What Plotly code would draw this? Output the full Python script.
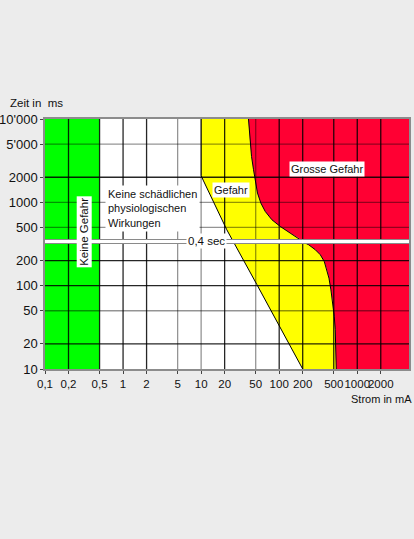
import numpy as np
import plotly.graph_objects as go

# ---------------- data ----------------
x_ticks = [0.1, 0.2, 0.5, 1, 2, 5, 10, 20, 50, 100, 200, 500, 1000, 2000]
x_labels = ["0,1", "0,2", "0,5", "1", "2", "5", "10", "20", "50", "100", "200", "500", "1000", "2000"]
y_ticks = [10, 20, 50, 100, 200, 500, 1000, 2000, 5000, 10000]
y_labels = ["10", "20", "50", "100", "200", "500", "1000", "2000", "5'000", "10'000"]

x_min, x_max = 0.1, 4600      # current, mA
y_min, y_max = 10, 10000      # time, ms

no_danger_limit = 0.5          # "Keine Gefahr" up to 0.5 mA
break_time = 340               # axis break marker ("0,4 sec")

# white / yellow boundary
safe_x = [10, 10, 10.6, 21.3, 51.8, 103, 200]
safe_y = [10000, 2100, 1850, 469, 103, 31, 10]
# yellow / red boundary, above the break
danger_up_x = [40.4, 41.2, 42.5, 44.2, 46.9, 49.7, 52.7, 58.2, 66.2, 80.6, 103, 138, 177, 200]
danger_up_y = [10000, 7450, 5150, 3560, 2460, 1706, 1293, 981, 778, 618, 514, 428, 372, 340]
# yellow / red boundary, below the break
danger_lo_x = [195, 238, 290, 336, 378, 409, 434, 460, 488, 507, 522, 527, 538]
danger_lo_y = [340, 310, 270, 235, 195, 155, 123, 89, 62, 43, 30, 18.6, 10]

# ---------------- style ----------------
GREEN = "#00ff00"
YELLOW = "#ffff00"
RED = "#ff0033"
BG = "#ececec"
FONT = "Liberation Sans, Arial, sans-serif"
dark_x = [0.2, 0.5, 1, 2, 20, 100, 200, 500, 1000, 2000]
dark_y = [20, 100, 200, 2000]

fig = go.Figure()

# green zone
fig.add_trace(go.Scatter(
    x=[x_min, no_danger_limit, no_danger_limit, x_min],
    y=[y_min, y_min, y_max, y_max],
    fill="toself", fillcolor=GREEN, mode="none", hoverinfo="skip"))

# yellow zone
yx = safe_x + danger_lo_x[::-1] + danger_up_x[::-1]
yy = safe_y + danger_lo_y[::-1] + danger_up_y[::-1]
fig.add_trace(go.Scatter(x=yx, y=yy, fill="toself", fillcolor=YELLOW,
                         mode="none", hoverinfo="skip"))

# red zone
rx = danger_up_x + danger_lo_x + [x_max, x_max]
ry = danger_up_y + danger_lo_y + [y_min, y_max]
fig.add_trace(go.Scatter(x=rx, y=ry, fill="toself", fillcolor=RED,
                         mode="none", hoverinfo="skip"))

# grid lines (drawn above the fills)
def grid(vals_x, vals_y, color):
    gx, gy = [], []
    for v in vals_x:
        gx += [v, v, None]
        gy += [y_min, y_max, None]
    for v in vals_y:
        gx += [x_min, x_max, None]
        gy += [v, v, None]
    fig.add_trace(go.Scatter(x=gx, y=gy, mode="lines",
                             line=dict(color=color, width=1.3), hoverinfo="skip"))

inner_x = [v for v in x_ticks if v != x_min]
inner_y = [v for v in y_ticks if v not in (y_min, y_max)]
grid([v for v in inner_x if v not in dark_x], [v for v in inner_y if v not in dark_y],
     "rgba(0,0,0,0.42)")
grid([v for v in inner_x if v in dark_x], [v for v in inner_y if v in dark_y],
     "rgba(0,0,0,0.85)")

# boundary lines
for bx, by in [(safe_x, safe_y), (danger_up_x, danger_up_y), (danger_lo_x, danger_lo_y)]:
    fig.add_trace(go.Scatter(x=bx, y=by, mode="lines",
                             line=dict(color="black", width=1), hoverinfo="skip"))

# axis break band
fig.add_trace(go.Scatter(x=[x_min, x_max], y=[break_time, break_time], mode="lines",
                         line=dict(color="#8a8a8a", width=5), hoverinfo="skip"))
fig.add_trace(go.Scatter(x=[x_min, x_max], y=[break_time, break_time], mode="lines",
                         line=dict(color="white", width=3), hoverinfo="skip"))

L = np.log10
ann_font = dict(family=FONT, size=11, color="#111")
annotations = [
    dict(x=L(0.316), y=L(443), xref="x", yref="y", text="Keine Gefahr", textangle=-90,
         showarrow=False, bgcolor="white", borderpad=1,
         font=dict(family=FONT, size=11.5, color="#111")),
    dict(x=L(0.58), y=L(838), xref="x", yref="y",
         text="Keine schädlichen<br>physiologischen<br>Wirkungen",
         align="left", xanchor="left", yanchor="middle", showarrow=False,
         bgcolor="white", borderpad=2, font=ann_font),
    dict(x=L(11.6), y=L(break_time), xref="x", yref="y", text="0,4 sec",
         showarrow=False, bgcolor="white", borderpad=1,
         font=dict(family=FONT, size=11.5, color="#111")),
    dict(x=L(23.9), y=L(1416), xref="x", yref="y", text="Gefahr",
         showarrow=False, bgcolor="white", borderpad=1, font=ann_font),
    dict(x=L(412), y=L(2515), xref="x", yref="y", text="Grosse Gefahr",
         showarrow=False, bgcolor="white", borderpad=1, font=ann_font),
    dict(x=-0.102, y=1.065, xref="paper", yref="paper", text="Zeit in  ms",
         xanchor="left", yanchor="middle", showarrow=False,
         font=dict(family=FONT, size=11.5, color="#111")),
    dict(x=1.014, y=-0.119, xref="paper", yref="paper", text="Strom in mA",
         xanchor="right", yanchor="middle", showarrow=False,
         font=dict(family=FONT, size=11, color="#111")),
]

fig.update_layout(
    width=414, height=539,
    margin=dict(l=45, r=5, t=119, b=170),
    paper_bgcolor=BG, plot_bgcolor="white",
    showlegend=False,
    annotations=annotations,
    xaxis=dict(type="log", range=[L(x_min), L(x_max)], tickvals=x_ticks, ticktext=x_labels,
               showgrid=False, zeroline=False, showline=True, linecolor="#8c8c8c",
               linewidth=1.5, mirror=True, ticks="outside", ticklen=3, tickcolor="#444",
               tickangle=0, automargin=False,
               tickfont=dict(family=FONT, size=11.5, color="#111"), fixedrange=True),
    yaxis=dict(type="log", range=[L(y_min), L(y_max)], tickvals=y_ticks, ticktext=y_labels,
               showgrid=False, zeroline=False, showline=True, linecolor="#8c8c8c",
               linewidth=1.5, mirror=True, ticks="outside", ticklen=3, tickcolor="#444",
               automargin=False,
               tickfont=dict(family=FONT, size=13, color="#111"), fixedrange=True),
)

fig.write_html("out.html")
